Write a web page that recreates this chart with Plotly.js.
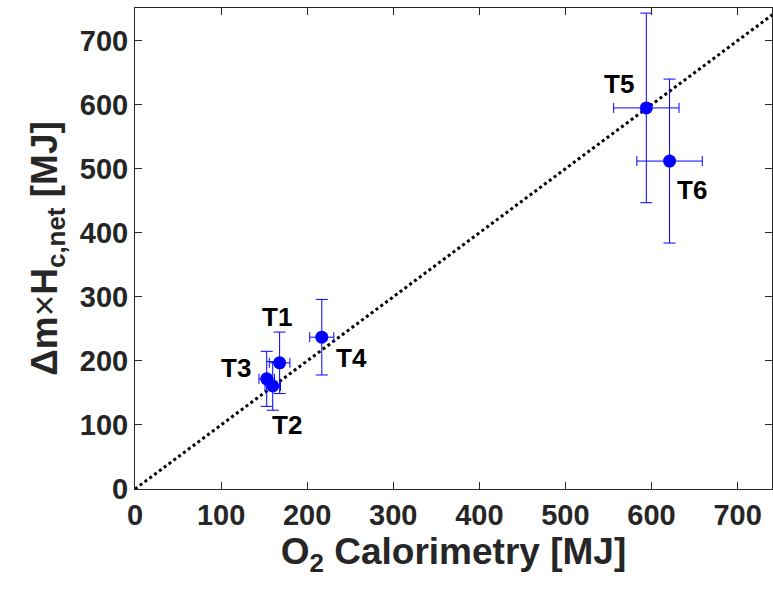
<!DOCTYPE html>
<html><head><meta charset="utf-8">
<script src="https://cdn.plot.ly/plotly-3.0.1.min.js"></script>
<style>body{margin:0;background:#fff}#c{width:773px;height:599px}</style>
</head><body><div id="c"></div>
<script>
const labels = ["T1","T2","T3","T4","T5","T6"];
const xVals = [168, 160, 153, 217, 594, 621];
const yVals = [197, 161, 172, 237, 595, 512];
const xErr  = [12, 9, 9, 14, 38, 38];
const yErr  = [48, 38, 43, 59, 148, 128];
const lineX = [0, 750];
const lineY = [0, 750];
const labelDx = [-3, 14, -31, 30, -27, 22];
const labelDy = [46, -39, 11, -21, 24, -29];
const ticks = [0,100,200,300,400,500,600,700];

const FONT = 'Liberation Sans, Arial, sans-serif';
const axisCommon = {
  tickvals: ticks, ticktext: ticks.map(v => '<b>' + v + '</b>'),
  ticks: 'inside', ticklen: 7, tickcolor: '#262626',
  showline: true, linecolor: '#262626', linewidth: 1, mirror: 'ticks',
  showgrid: false, zeroline: false,
  tickfont: {family: FONT, size: 29, color: '#262626'}
};

const data = [
  {x: lineX, y: lineY, mode: 'lines', line: {color: '#000', dash: 'dot', width: 3}, hoverinfo: 'skip'},
  {x: xVals, y: yVals, mode: 'markers', type: 'scatter',
   marker: {color: '#0000ff', size: 13},
   error_x: {type: 'data', array: xErr, color: '#0000ff', thickness: 1, width: 5},
   error_y: {type: 'data', array: yErr, color: '#0000ff', thickness: 1, width: 6}}
];

const annotations = labels.map((t,i)=>({
  x: xVals[i], y: yVals[i], text: '<b>'+t+'</b>', showarrow: false,
  xshift: labelDx[i], yshift: labelDy[i],
  font: {family: FONT, size: 26, color: '#000'}
}));

const layout = {
  width: 773, height: 599, showlegend: false,
  paper_bgcolor: '#fff', plot_bgcolor: '#fff',
  margin: {l: 135, r: 1, t: 8, b: 110},
  xaxis: Object.assign({}, axisCommon, {range: [0, 740],
    title: {text: '<b>O<sub>2</sub> Calorimetry [MJ]</b>', font: {family: FONT, size: 37, color: '#262626'}, standoff: 8}}),
  yaxis: Object.assign({}, axisCommon, {range: [0, 751],
    title: {text: '<b>Δm</b>×<b>H<sub>c,net</sub> [MJ]</b>', font: {family: FONT, size: 37, color: '#262626'}, standoff: 10}}),
  annotations: annotations
};
Plotly.newPlot('c', data, layout, {displayModeBar: false, staticPlot: true});
</script></body></html>
